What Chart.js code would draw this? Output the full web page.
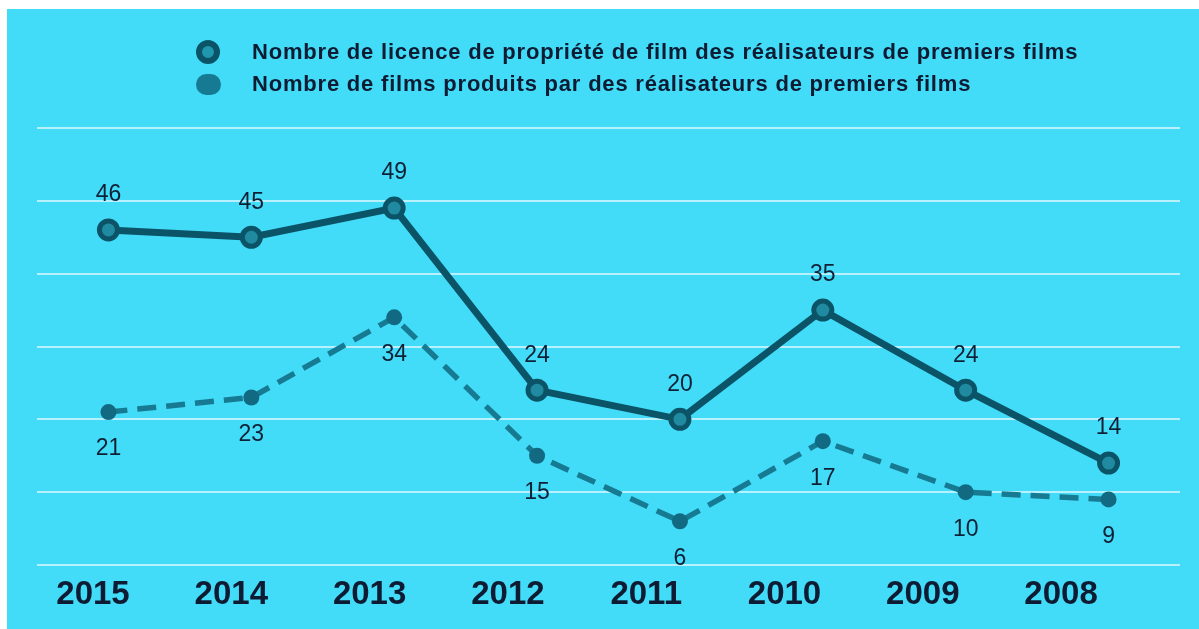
<!DOCTYPE html>
<html>
<head>
<meta charset="utf-8">
<script src="https://cdn.jsdelivr.net/npm/chart.js@4/dist/chart.umd.min.js"></script>
<style>
  body { margin: 0; background: #fff; width: 1199px; height: 629px; overflow: hidden; }
  #wrap { position: absolute; left: 7px; top: 9px; width: 1192px; height: 620px; background: #43dcf8; }
  #myChart { position: absolute; left: 0; top: 0; }
  .legend { position: absolute; left: 187px; font: bold 22px "Liberation Sans", Arial, sans-serif; letter-spacing: 0.8px; color: #0d1b33; }
  .legend div { position: relative; height: 32px; line-height: 32px; padding-left: 58px; white-space: nowrap; }
  .mk { position: absolute; left: 2px; top: 4px; width: 24px; height: 24px; border-radius: 50%; box-sizing: border-box; }
  .mk1 { background: #1f97ad; border: 6px solid #0b5468; }
  .mk2 { background: #167a92; border-radius: 50% / 60%; width: 25px; height: 21px; top: 6px; }
</style>
</head>
<body>
<div id="wrap">
  <canvas id="myChart" width="1192" height="620"></canvas>
  <div class="legend" style="top:27px">
    <div><span class="mk mk1"></span>Nombre de licence de propriété de film des réalisateurs de premiers films</div>
    <div><span class="mk mk2"></span>Nombre de films produits par des réalisateurs de premiers films</div>
  </div>
</div>
<script>
const years = ['2015', '2014', '2013', '2012', '2011', '2010', '2009', '2008'];
const licences = [46, 45, 49, 24, 20, 35, 24, 14];
const films = [21, 23, 34, 15, 6, 17, 10, 9];
const yTicks = [0, 10, 20, 30, 40, 50, 60];

const grafico = document.querySelector('#myChart');

// values written next to each point, above for the first line, below for the second
const valueLabels = {
  id: 'valueLabels',
  afterDatasetsDraw(chart) {
    const ctx = chart.ctx;
    ctx.save();
    ctx.font = '23px "Liberation Sans", Arial, sans-serif';
    ctx.fillStyle = '#0e2036';
    ctx.textAlign = 'center';
    ctx.textBaseline = 'middle';
    chart.data.datasets.forEach((ds, i) => {
      const shift = i === 0 ? -35 : 37;
      chart.getDatasetMeta(i).data.forEach((pt, j) => {
        ctx.fillText(String(ds.data[j]), pt.x, pt.y + shift);
      });
    });
    ctx.restore();
  }
};

const data = {
  labels: years,
  datasets: [
    {
      label: 'Nombre de licence de propriété de film des réalisateurs de premiers films',
      data: licences,
      borderColor: '#0b5468',
      borderWidth: 7,
      pointRadius: 9,
      pointBorderWidth: 5,
      pointBorderColor: '#0b5468',
      pointBackgroundColor: '#1f8aa0',
      tension: 0
    },
    {
      label: 'Nombre de films produits par des réalisateurs de premiers films',
      data: films,
      borderColor: '#167a92',
      borderWidth: 5.5,
      borderDash: [19, 10],
      pointRadius: 8,
      pointBorderWidth: 0,
      pointBackgroundColor: '#116a82',
      tension: 0
    }
  ]
};

const config = {
  type: 'line',
  data: data,
  plugins: [valueLabels],
  options: {
    responsive: false,
    animation: false,
    layout: { padding: { left: 30, right: 19, top: 119, bottom: 0 } },
    plugins: {
      legend: { display: false },
      tooltip: { enabled: false }
    },
    scales: {
      x: {
        type: 'category',
        offset: true,
        display: false
      },
      xl: {
        type: 'linear',
        position: 'bottom',
        min: -0.405,
        max: 7.86,
        grid: { display: false, drawTicks: false },
        border: { display: false },
        afterFit: s => { s.height = 64; },
        ticks: {
          stepSize: 1,
          includeBounds: false,
          autoSkip: false,
          maxRotation: 0,
          padding: 10,
          color: '#0d1b33',
          font: { family: '"Liberation Sans", Arial, sans-serif', size: 33, weight: 'bold' },
          callback: v => years[Math.round(v)] ?? ''
        }
      },
      y: {
        min: yTicks[0],
        max: yTicks[yTicks.length - 1],
        afterFit: s => { s.width = 0; },
        afterBuildTicks: s => { s.ticks = yTicks.map(v => ({ value: v })); },
        grid: { color: 'rgba(220,248,255,0.75)', lineWidth: 2, drawTicks: false },
        border: { display: false },
        ticks: { display: false }
      }
    }
  }
};

new Chart(grafico, config);
</script>
</body>
</html>
